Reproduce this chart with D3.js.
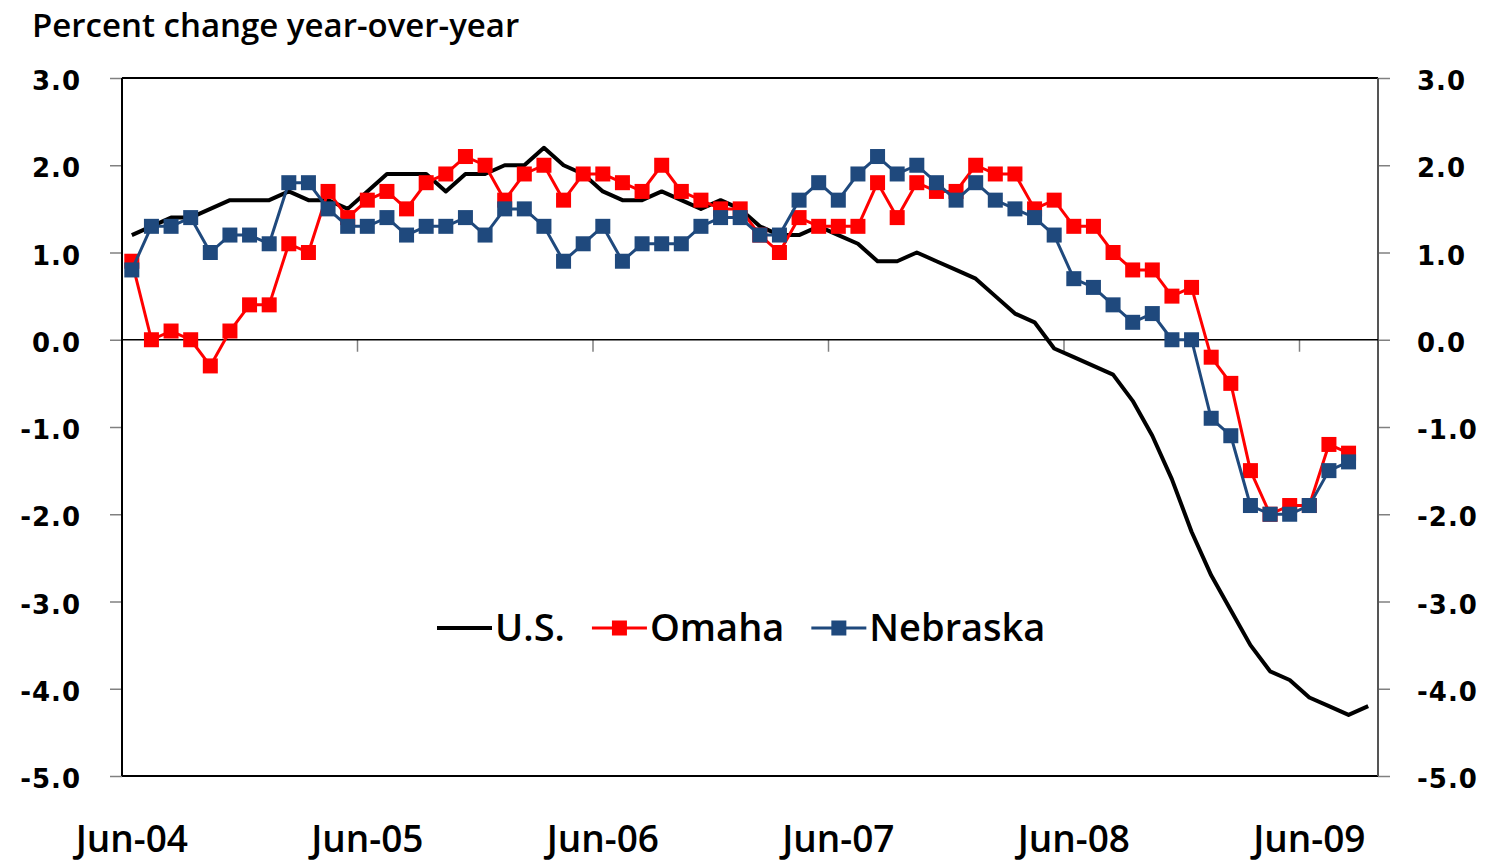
<!DOCTYPE html>
<html>
<head>
<meta charset="utf-8">
<script src="https://d3js.org/d3.v7.min.js"></script>
<style>
  body { margin: 0; background: #fff; overflow: hidden; }
  svg { display: block; }
  .tick-lbl { font-family: "DejaVu Sans", Verdana, sans-serif; font-weight: bold; font-size: 26px; letter-spacing: 1px; fill: #000; }
  .x-lbl, .legend text, .title { font-family: "Open Sans", sans-serif; font-weight: 600; fill: #000; }
</style>
</head>
<body>
<svg id="chart" width="1495" height="866"></svg>
<script>
// months (categories)
var months = [
  "Jun-04","Jul-04","Aug-04","Sep-04","Oct-04","Nov-04","Dec-04","Jan-05","Feb-05","Mar-05","Apr-05","May-05",
  "Jun-05","Jul-05","Aug-05","Sep-05","Oct-05","Nov-05","Dec-05","Jan-06","Feb-06","Mar-06","Apr-06","May-06",
  "Jun-06","Jul-06","Aug-06","Sep-06","Oct-06","Nov-06","Dec-06","Jan-07","Feb-07","Mar-07","Apr-07","May-07",
  "Jun-07","Jul-07","Aug-07","Sep-07","Oct-07","Nov-07","Dec-07","Jan-08","Feb-08","Mar-08","Apr-08","May-08",
  "Jun-08","Jul-08","Aug-08","Sep-08","Oct-08","Nov-08","Dec-08","Jan-09","Feb-09","Mar-09","Apr-09","May-09",
  "Jun-09","Jul-09","Aug-09","Sep-09"
];

var usValues = [
  1.2, 1.3, 1.4, 1.4, 1.5, 1.6, 1.6, 1.6, 1.7, 1.6, 1.6, 1.5,
  1.7, 1.9, 1.9, 1.9, 1.7, 1.9, 1.9, 2.0, 2.0, 2.2, 2.0, 1.9,
  1.7, 1.6, 1.6, 1.7, 1.6, 1.5, 1.6, 1.5, 1.3, 1.2, 1.2, 1.3,
  1.2, 1.1, 0.9, 0.9, 1.0, 0.9, 0.8, 0.7, 0.5, 0.3, 0.2, -0.1,
  -0.2, -0.3, -0.4, -0.7, -1.1, -1.6, -2.2, -2.7, -3.1, -3.5, -3.8, -3.9,
  -4.1, -4.2, -4.3, -4.2
];

var omahaValues = [
  0.9, 0.0, 0.1, 0.0, -0.3, 0.1, 0.4, 0.4, 1.1, 1.0, 1.7, 1.4,
  1.6, 1.7, 1.5, 1.8, 1.9, 2.1, 2.0, 1.6, 1.9, 2.0, 1.6, 1.9,
  1.9, 1.8, 1.7, 2.0, 1.7, 1.6, 1.5, 1.5, 1.2, 1.0, 1.4, 1.3,
  1.3, 1.3, 1.8, 1.4, 1.8, 1.7, 1.7, 2.0, 1.9, 1.9, 1.5, 1.6,
  1.3, 1.3, 1.0, 0.8, 0.8, 0.5, 0.6, -0.2, -0.5, -1.5, -2.0, -1.9,
  -1.9, -1.2, -1.3
];

var nebraskaValues = [
  0.8, 1.3, 1.3, 1.4, 1.0, 1.2, 1.2, 1.1, 1.8, 1.8, 1.5, 1.3,
  1.3, 1.4, 1.2, 1.3, 1.3, 1.4, 1.2, 1.5, 1.5, 1.3, 0.9, 1.1,
  1.3, 0.9, 1.1, 1.1, 1.1, 1.3, 1.4, 1.4, 1.2, 1.2, 1.6, 1.8,
  1.6, 1.9, 2.1, 1.9, 2.0, 1.8, 1.6, 1.8, 1.6, 1.5, 1.4, 1.2,
  0.7, 0.6, 0.4, 0.2, 0.3, 0.0, 0.0, -0.9, -1.1, -1.9, -2.0, -2.0,
  -1.9, -1.5, -1.4
];

var yTicks = [3, 2, 1, 0, -1, -2, -3, -4, -5];
var xTickLabels = ["Jun-04", "Jun-05", "Jun-06", "Jun-07", "Jun-08", "Jun-09"];

var seriesNames = ["U.S.", "Omaha", "Nebraska"];
var seriesColors = ["#000000", "#FF0000", "#1F497D"];

const svg = d3.select('#chart');

var margin = { top: 78, right: 117, bottom: 90, left: 122 };
var width = +svg.attr('width');
var height = +svg.attr('height');
var innerWidth = width - margin.left - margin.right;
var innerHeight = height - margin.top - margin.bottom;

const xScale = d3.scaleBand()
  .domain(months)
  .range([margin.left, margin.left + innerWidth]);
const bw = xScale.bandwidth();
const xMid = m => xScale(m) + bw / 2;

const yScale = d3.scaleLinear()
  .domain([-5, 3])
  .range([margin.top + innerHeight, margin.top]);

const fmt = d => d.toFixed(1);

// title
svg.append('text')
  .attr('class', 'title')
  .attr('x', 32)
  .attr('y', 37)
  .style('font-size', '33px')
  .text('Percent change year-over-year');

// left axis
const leftAxis = d3.axisLeft(yScale)
  .tickValues(yTicks)
  .tickSize(12)
  .tickPadding(29)
  .tickFormat(fmt);

const leftG = svg.append('g')
  .attr('transform', `translate(${margin.left},0)`)
  .call(leftAxis)
  .attr('font-size', null).attr('font-family', null);
leftG.select('.domain').remove();
leftG.selectAll('.tick line').attr('stroke', '#808080').attr('stroke-width', 1.5);
leftG.selectAll('.tick text').attr('class', 'tick-lbl').attr('dy', '0.45em');

// right axis
const rightAxis = d3.axisRight(yScale)
  .tickValues(yTicks)
  .tickSize(12)
  .tickPadding(27)
  .tickFormat(fmt);

const rightG = svg.append('g')
  .attr('transform', `translate(${margin.left + innerWidth},0)`)
  .call(rightAxis)
  .attr('font-size', null).attr('font-family', null);
rightG.select('.domain').remove();
rightG.selectAll('.tick line').attr('stroke', '#808080').attr('stroke-width', 1.5);
rightG.selectAll('.tick text').attr('class', 'tick-lbl').attr('dy', '0.45em');

// frame
svg.append('line')
  .attr('x1', margin.left).attr('x2', margin.left + innerWidth)
  .attr('y1', yScale(3)).attr('y2', yScale(3))
  .attr('stroke', '#000').attr('stroke-width', 2);
svg.append('line')
  .attr('x1', margin.left).attr('x2', margin.left + innerWidth)
  .attr('y1', yScale(-5)).attr('y2', yScale(-5))
  .attr('stroke', '#000').attr('stroke-width', 2);
svg.append('line')
  .attr('x1', margin.left + innerWidth).attr('x2', margin.left + innerWidth)
  .attr('y1', yScale(3)).attr('y2', yScale(-5))
  .attr('stroke', '#555').attr('stroke-width', 2);
svg.append('line')
  .attr('x1', margin.left).attr('x2', margin.left)
  .attr('y1', yScale(3)).attr('y2', yScale(-5))
  .attr('stroke', '#000').attr('stroke-width', 2);

// zero axis with year ticks at band boundaries
var yearStarts = months.filter((m, i) => i % 12 === 0 && i > 0);
svg.append('g').selectAll('line')
  .data(yearStarts)
  .enter().append('line')
  .attr('x1', d => xScale(d)).attr('x2', d => xScale(d))
  .attr('y1', yScale(0)).attr('y2', yScale(0) + 12)
  .attr('stroke', '#808080').attr('stroke-width', 1.5);

svg.append('line')
  .attr('x1', margin.left).attr('x2', margin.left + innerWidth)
  .attr('y1', yScale(0)).attr('y2', yScale(0))
  .attr('stroke', '#000').attr('stroke-width', 1.5);

// x labels at the bottom
svg.append('g').selectAll('text')
  .data(xTickLabels)
  .enter().append('text')
  .attr('class', 'x-lbl')
  .attr('x', d => xMid(d))
  .attr('y', 852)
  .attr('text-anchor', 'middle')
  .style('font-size', '37px')
  .text(d => d);

// series
var series = [
  { name: seriesNames[0], color: seriesColors[0], values: usValues, width: 4, marker: false },
  { name: seriesNames[1], color: seriesColors[1], values: omahaValues, width: 3, marker: true },
  { name: seriesNames[2], color: seriesColors[2], values: nebraskaValues, width: 3, marker: true }
];

const line = d3.line()
  .x((d, i) => xMid(months[i]))
  .y(d => yScale(d));

var markerSize = 15;

series.forEach(s => {
  svg.append('path')
    .datum(s.values)
    .attr('fill', 'none')
    .attr('stroke', s.color)
    .attr('stroke-width', s.width)
    .attr('stroke-linejoin', 'round')
    .attr('d', line);

  if (s.marker) {
    svg.append('g').selectAll('rect')
      .data(s.values)
      .enter().append('rect')
      .attr('x', (d, i) => xMid(months[i]) - markerSize / 2)
      .attr('y', d => yScale(d) - markerSize / 2)
      .attr('width', markerSize)
      .attr('height', markerSize)
      .attr('fill', s.color);
  }
});

// legend
var legend = svg.append('g').attr('class', 'legend');
var lx = 437, ly = 628;
series.forEach(s => {
  var item = legend.append('g').attr('transform', `translate(${lx},${ly})`);
  item.append('line')
    .attr('x1', 0).attr('x2', 55)
    .attr('y1', 0).attr('y2', 0)
    .attr('stroke', s.color)
    .attr('stroke-width', s.width);
  if (s.marker) {
    item.append('rect')
      .attr('x', 27.5 - markerSize / 2)
      .attr('y', -markerSize / 2)
      .attr('width', markerSize)
      .attr('height', markerSize)
      .attr('fill', s.color);
  }
  var t = item.append('text')
    .attr('x', 58)
    .attr('y', 13)
    .style('font-size', '38px')
    .text(s.name);
  lx += 58 + t.node().getComputedTextLength() + 27;
});
</script>
</body>
</html>
